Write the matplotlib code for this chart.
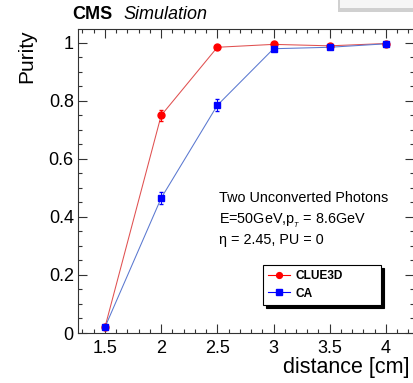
import matplotlib
matplotlib.use("Agg")
import matplotlib.pyplot as plt
from matplotlib.ticker import MultipleLocator
from matplotlib.patches import Rectangle
from matplotlib.lines import Line2D

plt.rcParams['font.family'] = ['Liberation Sans', 'DejaVu Sans']
plt.rcParams['mathtext.fontset'] = 'custom'
plt.rcParams['mathtext.rm'] = 'Liberation Sans'
plt.rcParams['mathtext.it'] = 'Liberation Sans:italic'

distance = [1.5, 2.0, 2.5, 3.0, 3.5, 4.0]
clue3d = [0.02, 0.75, 0.985, 0.995, 0.99, 0.998]
clue3d_err = [0.005, 0.02, 0.006, 0.004, 0.005, 0.003]
ca = [0.02, 0.465, 0.785, 0.98, 0.985, 0.997]
ca_err = [0.005, 0.022, 0.02, 0.006, 0.005, 0.003]

red_line = '#e05050'
blue_line = '#5a78d0'

fig = plt.figure(figsize=(4.14, 3.83), dpi=100)
ax = fig.add_axes([78/414, 1-333/383, 336/414, 304/383])

ax.plot(distance, clue3d, color=red_line, lw=0.75, zorder=2)
ax.plot(distance, ca, color=blue_line, lw=0.75, zorder=2)
ax.errorbar(distance, clue3d, yerr=clue3d_err, color='red', marker='o', ms=5,
            ls='none', elinewidth=0.7, capsize=1.5, zorder=3)
ax.errorbar(distance, ca, yerr=ca_err, color='blue', marker='s', ms=4.6,
            ls='none', elinewidth=0.7, capsize=1.5, zorder=3)

ax.set_xlim(1.26, 4.25)
ax.set_ylim(0, 1.048)
ax.xaxis.set_minor_locator(MultipleLocator(0.1))
ax.yaxis.set_minor_locator(MultipleLocator(0.05))
ax.set_xticks(distance)
ax.set_xticklabels(['1.5', '2', '2.5', '3', '3.5', '4'])
ax.set_yticks([0, 0.2, 0.4, 0.6, 0.8, 1.0])
ax.set_yticklabels(['0', '0.2', '0.4', '0.6', '0.8', '1'])
ax.tick_params(which='both', direction='in', top=True, right=True, labelsize=13, color='#333333')
ax.tick_params(which='major', length=6.5, width=0.8)
ax.tick_params(which='minor', length=3.2, width=0.8)
ax.tick_params(axis='x', pad=5)
ax.tick_params(axis='y', pad=3)
for s in ax.spines.values():
    s.set_linewidth(0.8)
    s.set_color('#333333')

ax.set_ylabel('Purity', fontsize=15, loc='top', labelpad=9)
ax.set_xlabel('distance [cm]', fontsize=15.5, loc='right')
ax.xaxis.set_label_coords((410-78)/336, -(367-333)/304, transform=ax.transAxes)
ax.xaxis.label.set_va('center')

fig.text(72/414, 1-19/383, 'CMS', fontsize=13, fontweight='bold', va='baseline')
fig.text(123/414, 1-19/383, 'Simulation', fontsize=13, fontstyle='italic', va='baseline')

ax.text(0.42, 0.444, 'Two Unconverted Photons', transform=ax.transAxes, fontsize=10.4, va='center')
ax.text(0.42, 0.368, r'E=50GeV,p$_{_T}$ = 8.6GeV', transform=ax.transAxes, fontsize=10.4, va='center')
ax.text(0.42, 0.306, 'η = 2.45, PU = 0', transform=ax.transAxes, fontsize=10.4, va='center')

handles = [Line2D([], [], color='red', lw=0.8, marker='o', ms=4.2),
           Line2D([], [], color='blue', lw=0.8, marker='s', ms=4.0)]
leg = ax.legend(handles, ['CLUE3D', 'CA'], loc='lower left',
                bbox_to_anchor=((263-78)/336, (333-305)/304, 118/336, 39/304), mode='expand',
                borderaxespad=0, fancybox=False, edgecolor='black', framealpha=1,
                prop={'weight': 'bold', 'size': 8.6}, handlelength=1.8, handletextpad=0.5,
                labelspacing=0.45, borderpad=0.45,
                shadow={'color': 'black', 'alpha': 1, 'ox': 2.2, 'oy': -2.2})
leg.get_frame().set_linewidth(0.8)

# partial box at top-right corner
fig.patches.append(Rectangle((338/414, 1-12/383), 76/414, 12/383, transform=fig.transFigure,
                             facecolor='#d0d0d0', edgecolor='none'))
fig.patches.append(Rectangle((340/414, 1-8/383), 74/414, 8/383, transform=fig.transFigure,
                             facecolor='#f6f6f6', edgecolor='none'))

fig.savefig('out.png', dpi=100)
